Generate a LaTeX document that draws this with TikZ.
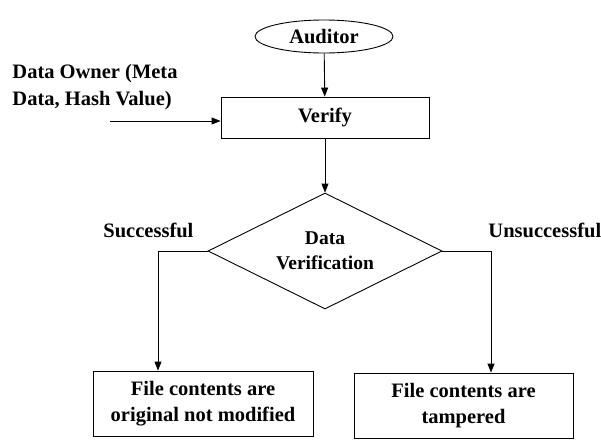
\documentclass[tikz,border=0pt]{standalone}
\usepackage{fontspec}
\setmainfont{Liberation Serif}
\usetikzlibrary{positioning, arrows.meta, shapes.geometric}

\begin{document}
\begin{tikzpicture}[
    x=1pt, y=-1pt,
    line width=0.9pt,
    every node/.style={font=\fontsize{20.5}{26.5}\selectfont\bfseries},
    box/.style={draw, rectangle, align=center, inner sep=0pt},
    arr/.style={-{Triangle[length=9pt,width=7pt]}}
]
    \useasboundingbox (0,0) rectangle (601,439);

    % top part
    \node[draw, ellipse, minimum width=138pt, minimum height=33pt, inner sep=0pt] (auditor) at (324,36.5) {Auditor};
    \node[box, minimum width=208pt, minimum height=41pt] (verify) at (325,117.5) {Verify};
    \node[align=left, anchor=west, inner sep=0pt] (owner) at (12,87) {Data Owner (Meta\\Data, Hash Value)};
    \coordinate (owner in) at (110,121);

    % decision
    \node[draw, diamond, aspect=2, minimum width=234pt, minimum height=116pt, inner sep=0pt,
          align=center, font=\fontsize{19.5}{25}\selectfont\bfseries] (check) at (325,251) {Data\\Verification};
    \node[anchor=west, inner sep=0pt] (yes) at (103,230) {Successful};
    \node[anchor=west, inner sep=0pt] (no) at (488,230) {Unsuccessful};

    % results
    \node[box, minimum width=220pt, minimum height=65pt] (ok) at (203,403.5) {File contents are\\original not modified};
    \node[box, minimum width=219pt, minimum height=65pt] (bad) at (463.5,405.5) {File contents are\\tampered};

    \draw[arr] (auditor) -- (verify);
    \draw[arr] (owner in) -- (owner in -| verify.west);
    \draw[arr] (verify) -- (check);
    \draw[arr] (check.west) -| ([xshift=-45pt]ok.north);
    \draw[arr] (check.east) -| ([xshift=27.5pt]bad.north);
\end{tikzpicture}
\end{document}
